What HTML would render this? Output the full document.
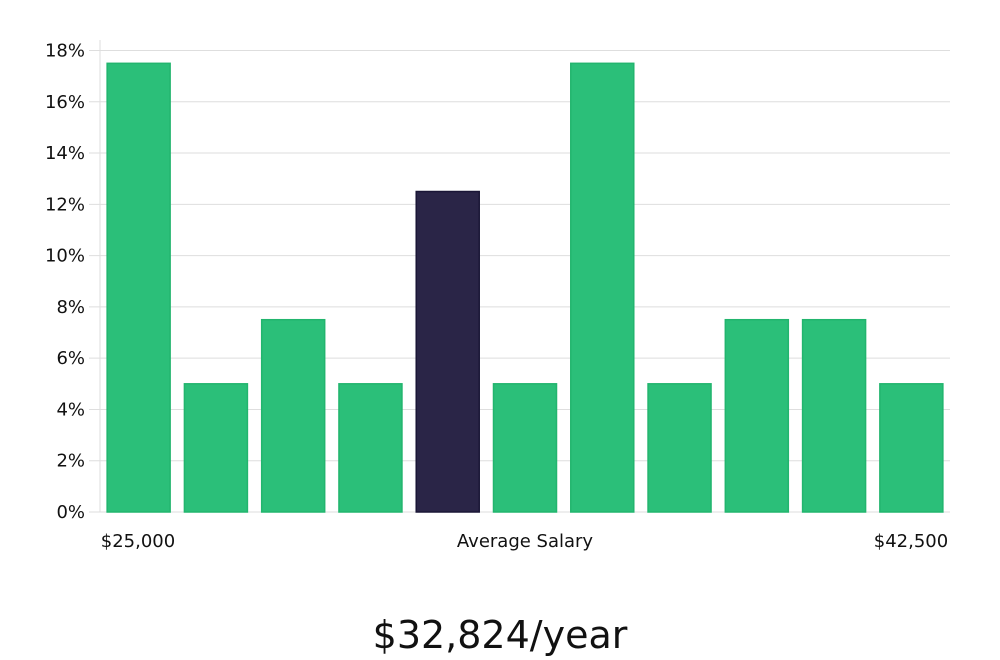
<!DOCTYPE html>
<html><head><meta charset="utf-8"><style>
html,body{margin:0;padding:0;background:#fff;width:1000px;height:660px;overflow:hidden}
svg text{font-family:"DejaVu Sans","Liberation Sans",sans-serif;fill:#111}
</style></head><body>
<svg id="chart" width="1000" height="660"></svg>
<script>
const categories=["b1","b2","b3","b4","b5","b6","b7","b8","b9","b10","b11"];
const values=[17.5,5,7.5,5,12.5,5,17.5,5,7.5,7.5,5];
const highlight=[false,false,false,false,true,false,false,false,false,false,false];
const yTicks=[0,2,4,6,8,10,12,14,16,18];
const xLabels=["$25,000","Average Salary","$42,500"];
const NS="http://www.w3.org/2000/svg";
const svg=document.getElementById('chart');
const x0=100,x1=950,y0=512,yTop=50.5,yMax=18;
const y=v=>y0-(v/yMax)*(y0-yTop);
const step=(x1-x0)/categories.length;
const bw=63;
const bx=i=>x0+step*i+(step-bw)/2;
function mk(t,a){const e=document.createElementNS(NS,t);for(const k in a)e.setAttribute(k,a[k]);svg.appendChild(e);return e;}
yTicks.forEach(t=>{
  const g=mk('line',{x1:89,x2:x1,y1:y(t),y2:y(t),stroke:'#dedede','stroke-width':1});
  
  
  const l=mk('text',{x:85,y:y(t)+6,'text-anchor':'end','font-size':18});
  l.textContent=t+'%';
  
  
});
const ax=mk('line',{x1:x0,x2:x0,y1:40,y2:y0,stroke:'#dedede','stroke-width':1});


values.forEach((v,i)=>{
  const hl=highlight[i];
  const r=mk('rect',{x:bx(i),y:y(v),width:bw,height:y0-y(v),fill:hl?'#2a2547':'#2bbf79',stroke:hl?'#1a1636':'#22b56e','stroke-width':1.5});
  
  
});
const xl=[[138,'middle'],[525,'middle'],[911,'middle']];
xLabels.forEach((s,i)=>{
  const t=mk('text',{x:xl[i][0],y:547,'text-anchor':xl[i][1],'font-size':18});
  t.textContent=s;
  
  
});
const c=mk('text',{x:500,y:648,'text-anchor':'middle','font-size':38,'font-family':'"Liberation Sans Narrow","DejaVu Sans Condensed",sans-serif'});
c.textContent='$32,824/year';


</script>
</body></html>
